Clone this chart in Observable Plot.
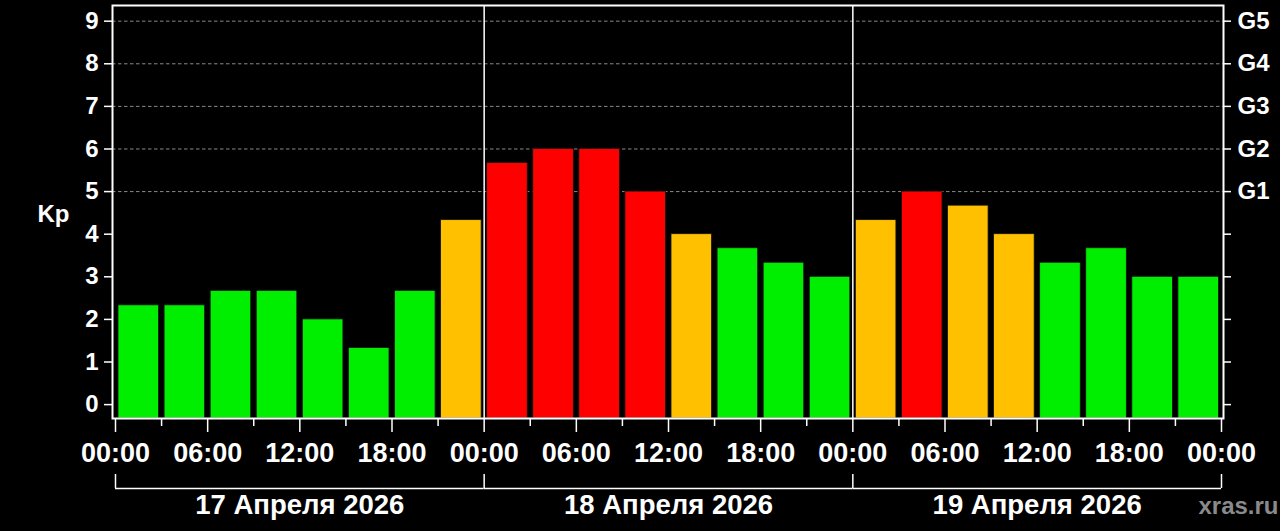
<!DOCTYPE html>
<html>
<head>
<meta charset="utf-8">
<script src="https://cdn.jsdelivr.net/npm/d3@7"></script>
<script src="https://cdn.jsdelivr.net/npm/@observablehq/plot@0.6"></script>
<style>
	body { margin: 0; background: #000; }
	svg { display: block; }
</style>
</head>
<body>
<script>
// data
const days = ['17 Апреля 2026', '18 Апреля 2026', '19 Апреля 2026'];
const kp = [
	2.33, 2.33, 2.67, 2.67, 2, 1.33, 2.67, 4.33,
	5.67, 6, 6, 5, 4, 3.67, 3.33, 3,
	4.33, 5, 4.67, 4, 3.33, 3.67, 3, 3
];
const kpTicks = [0, 1, 2, 3, 4, 5, 6, 7, 8, 9];
const gLabels = ['G1', 'G2', 'G3', 'G4', 'G5'];
const gridLevels = [5, 6, 7, 8, 9];
const source = 'xras.ru';

const start = new Date(Date.UTC(2026, 3, 17));
const end = d3.utcDay.offset(start, days.length);
const rows = kp.map((value, i) => ({
	from: d3.utcHour.offset(start, 3 * i),
	to: d3.utcHour.offset(start, 3 * (i + 1)),
	kp: value
}));
const dayRows = days.map((label, i) => ({
	label,
	from: d3.utcDay.offset(start, i),
	to: d3.utcDay.offset(start, i + 1),
	mid: d3.utcHour.offset(start, 24 * i + 12)
}));
const dayEdges = d3.utcDay.range(start, d3.utcHour.offset(end, 1));
const majorTicks = d3.utcHour.every(6).range(start, d3.utcHour.offset(end, 1));
const minorTicks = d3.utcHour.range(d3.utcHour.offset(start, 3), end, 6);

const yMin = -0.326;
const font = "'Liberation Sans', Arial, sans-serif";
const barColor = v => v >= 5 ? '#ff0000' : v >= 4 ? '#ffc000' : '#00ee00';
const bracketDy = 70;


// plot
let fig = Plot.plot({
	width: 1280,
	height: 531,
	marginLeft: 112,
	marginRight: 57,
	marginTop: 5,
	marginBottom: 113,
	style: {background: '#000', color: '#fff', fontFamily: font, fontWeight: 'bold'},
	x: {type: 'utc', domain: [start, end], insetLeft: 3, insetRight: 2},
	y: {domain: [yMin, 9.368]},
	color: {type: 'identity'},
	marks: [
		Plot.ruleY(gridLevels, {stroke: '#888', strokeDasharray: '3.5,2.5', strokeWidth: 1}),
		Plot.rectY(rows, {
			x1: 'from',
			x2: 'to',
			y1: yMin,
			y2: 'kp',
			fill: d => barColor(d.kp),
			stroke: '#111',
			strokeWidth: 0.8,
			insetLeft: 3,
			insetRight: 2.5
		}),
		Plot.ruleX(dayEdges.slice(1, -1), {stroke: '#fff', strokeWidth: 1.5}),
		Plot.frame({stroke: '#fff', strokeWidth: 2}),
		Plot.axisY({ticks: kpTicks, label: null, tickSize: 8, tickPadding: 6, fontSize: 24, strokeWidth: 1.5}),
		Plot.axisY({
			anchor: 'right',
			label: null,
			ticks: kpTicks,
			tickSize: 7,
			tickPadding: 7,
			fontSize: 24,
			strokeWidth: 1.5,
			tickFormat: d => gLabels[d - 5] ?? ''
		}),
		Plot.axisX({
			ticks: majorTicks,
			label: null,
			tickSize: 14,
			tickPadding: 10,
			fontSize: 27,
			strokeWidth: 1.5,
			tickFormat: d3.utcFormat('%H:%M')
		}),
		Plot.axisX({ticks: minorTicks, label: null, tickSize: 8, strokeWidth: 1.5, tickFormat: () => ''}),
		Plot.text(['Kp'], {
			frameAnchor: 'left',
			textAnchor: 'middle',
			dx: -59,
			dy: 2,
			fontSize: 24,
			fill: '#fff'
		}),

		// date brackets under the time axis
		Plot.ruleY(dayRows, {x1: 'from', x2: 'to', y: yMin, dy: bracketDy, stroke: '#fff', strokeWidth: 1.5}),
		Plot.ruleX(dayEdges, {
			y1: yMin,
			y2: yMin,
			insetTop: -14,
			dy: bracketDy,
			stroke: '#fff',
			strokeWidth: 1.5
		}),
		Plot.text(dayRows, {
			x: 'mid',
			text: 'label',
			frameAnchor: 'bottom',
			lineAnchor: 'middle',
			dy: bracketDy + 17,
			fontSize: 27.5,
			fill: '#fff'
		}),
		Plot.text([source], {
			frameAnchor: 'bottom-right',
			lineAnchor: 'middle',
			textAnchor: 'end',
			dx: 55,
			dy: bracketDy + 18,
			fontSize: 24,
			fill: '#8a8a8a'
		})
	]
});

document.querySelector('body').append(fig);
</script>
</body>
</html>
